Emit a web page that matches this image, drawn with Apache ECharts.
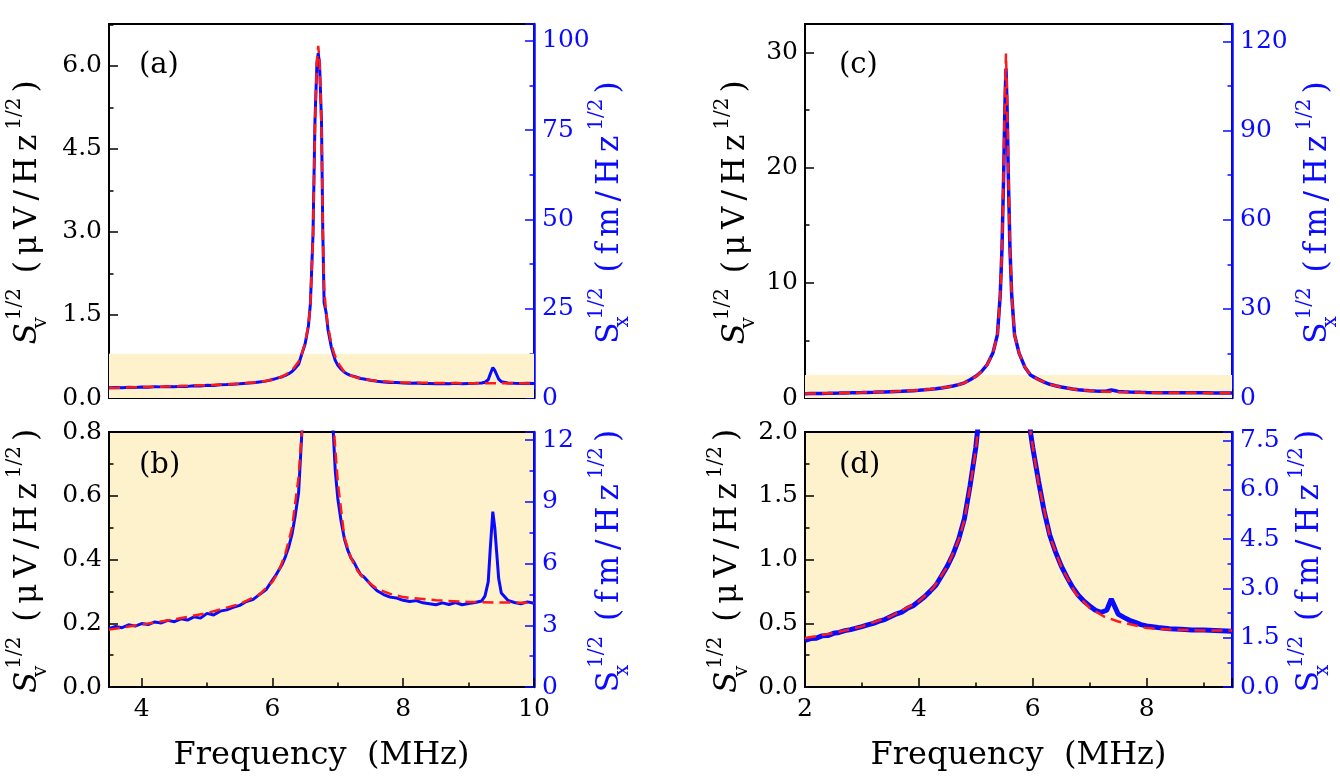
<!DOCTYPE html>
<html>
<head>
<meta charset="utf-8">
<script src="https://cdn.jsdelivr.net/npm/echarts@6/dist/echarts.min.js"></script>
<style>html,body{margin:0;padding:0;background:#fff}#chart{width:1340px;height:783px}</style>
</head>
<body>
<div id="chart"></div>
<script>
// ---------- data ----------
// Device 1 (panels a, b): measured spectrum [frequency MHz, S_v^1/2 in uV/Hz^1/2]
const device1Measured = [
  [3.5,0.183],[3.6,0.190],[3.7,0.186],[3.8,0.195],[3.9,0.191],[4.0,0.199],[4.1,0.196],[4.2,0.204],
  [4.3,0.201],[4.4,0.209],[4.5,0.205],[4.6,0.214],[4.7,0.210],[4.8,0.220],[4.9,0.216],[5.0,0.231],
  [5.1,0.226],[5.2,0.238],[5.3,0.242],[5.4,0.250],[5.5,0.256],[5.6,0.268],[5.7,0.274],[5.8,0.290],
  [5.9,0.305],[6.0,0.335],[6.05,0.350],[6.1,0.368],[6.15,0.385],[6.2,0.410],[6.25,0.440],[6.3,0.480],
  [6.35,0.540],[6.4,0.610],[6.45,0.800],[6.5,0.98],[6.55,1.30],[6.58,1.70],[6.62,2.95],[6.65,5.00],
  [6.68,6.05],[6.70,6.23],[6.72,6.05],[6.75,5.00],[6.77,3.00],[6.79,1.72],[6.82,1.55],[6.85,1.23],
  [6.90,0.92],[6.93,0.80],[6.96,0.68],[7.0,0.59],[7.05,0.52],[7.1,0.465],[7.15,0.43],[7.2,0.405],
  [7.25,0.39],[7.3,0.37],[7.35,0.352],[7.4,0.345],[7.5,0.322],[7.6,0.302],[7.7,0.290],[7.8,0.282],
  [7.9,0.279],[8.0,0.272],[8.1,0.268],[8.2,0.271],[8.3,0.264],[8.4,0.261],[8.5,0.258],[8.6,0.264],
  [8.7,0.259],[8.8,0.265],[8.9,0.258],[9.0,0.262],[9.1,0.265],[9.2,0.270],[9.25,0.285],[9.3,0.33],
  [9.33,0.43],[9.37,0.55],[9.40,0.50],[9.43,0.42],[9.46,0.34],[9.5,0.295],[9.6,0.272],[9.7,0.265],
  [9.8,0.261],[9.9,0.267],[10.0,0.263]
];
// Device 1 fitted curve
const device1Fit = [
  [3.5,0.180],[3.75,0.188],[4.0,0.196],[4.5,0.212],[5.0,0.232],[5.5,0.260],[5.8,0.290],[6.0,0.330],
  [6.1,0.365],[6.2,0.420],[6.3,0.500],[6.4,0.660],[6.45,0.800],[6.5,1.00],[6.55,1.32],[6.58,1.70],
  [6.62,2.90],[6.65,4.90],[6.68,6.10],[6.70,6.36],[6.72,6.10],[6.75,4.90],[6.77,3.00],[6.79,2.00],
  [6.82,1.55],[6.85,1.30],[6.90,0.97],[6.95,0.78],[7.0,0.64],[7.1,0.47],[7.2,0.405],[7.3,0.365],
  [7.4,0.340],[7.6,0.308],[7.8,0.292],[8.0,0.282],[8.5,0.272],[9.0,0.267],[9.5,0.265],[10.0,0.264]
];
// Device 2 (panels c, d): measured spectrum
const device2Measured = [
  [2.0,0.365],[2.1,0.380],[2.2,0.383],[2.3,0.401],[2.4,0.403],[2.5,0.421],[2.6,0.428],[2.7,0.442],
  [2.8,0.450],[2.9,0.462],[3.0,0.474],[3.1,0.487],[3.2,0.499],[3.3,0.517],[3.4,0.529],[3.5,0.551],
  [3.6,0.572],[3.7,0.588],[3.8,0.617],[3.9,0.638],[4.0,0.672],[4.1,0.708],[4.2,0.752],[4.3,0.798],
  [4.4,0.872],[4.5,0.948],[4.6,1.040],[4.7,1.160],[4.8,1.320],[4.9,1.580],[5.0,1.880],[5.1,2.30],
  [5.2,2.90],[5.3,3.90],[5.38,5.50],[5.43,9.00],[5.46,13.0],[5.49,19.5],[5.51,25.0],[5.53,28.6],
  [5.55,25.0],[5.57,19.5],[5.60,13.0],[5.63,9.00],[5.68,5.50],[5.76,3.90],[5.86,2.70],[5.96,2.00],
  [6.0,1.880],[6.1,1.620],[6.2,1.380],[6.3,1.190],[6.4,1.060],[6.5,0.950],[6.6,0.862],[6.7,0.782],
  [6.8,0.720],[6.9,0.672],[7.0,0.636],[7.1,0.602],[7.2,0.586],[7.3,0.602],[7.38,0.690],[7.45,0.622],
  [7.5,0.572],[7.6,0.546],[7.7,0.523],[7.8,0.507],[7.9,0.489],[8.0,0.479],[8.2,0.466],[8.4,0.457],
  [8.6,0.453],[8.8,0.447],[9.0,0.448],[9.2,0.444],[9.4,0.440],[9.5,0.437]
];
// Device 2 fitted curve
const device2Fit = [
  [2.0,0.384],[2.5,0.423],[3.0,0.475],[3.5,0.553],[4.0,0.671],[4.25,0.775],[4.5,0.945],[4.7,1.154],
  [4.8,1.31],[4.9,1.57],[5.0,1.86],[5.1,2.30],[5.2,2.90],[5.3,3.90],[5.38,5.50],[5.43,9.00],
  [5.46,13.0],[5.49,20.0],[5.51,26.0],[5.53,29.9],[5.55,26.0],[5.57,20.0],[5.60,13.0],[5.63,9.00],
  [5.68,5.50],[5.76,3.90],[5.86,2.70],[5.96,2.00],[6.0,1.885],[6.1,1.60],[6.2,1.39],[6.3,1.18],
  [6.5,0.945],[6.75,0.736],[7.0,0.62],[7.25,0.553],[7.5,0.514],[8.0,0.462],[8.5,0.449],[9.0,0.444],
  [9.5,0.444]
];
// axis ranges and ticks
const xRangeDevice1 = [3.5, 10];
const xRangeDevice2 = [2, 9.5];
const leftMax = [6.757, 0.8, 32.46, 2.0];       // panels a, b, c, d
const leftStep = [1.5, 0.2, 10, 0.5];
const leftDecimals = [1, 1, 0, 1];
const rightMax = [104.7, 12.4, 125.9, 7.76];
const rightStep = [25, 3, 30, 1.5];
const rightDecimals = [0, 0, 0, 1];
const zoomBandTop = [0.8, 2.0];                  // shaded region in (a) and (c) = range of (b) and (d)
const panelLabels = ['(a)', '(b)', '(c)', '(d)'];
const xTitle = 'Frequency  (MHz)';
const leftUnit = ['(', 'μ', 'V', '/', 'H', 'z'];
const rightUnit = ['(', 'f', 'm', '/', 'H', 'z'];

// ---------- styling ----------
const F = "'DejaVu Serif', serif";
const BLUE = '#0a0aff';
const RED = '#ff1a1a';
const SHADE = '#fef2cd';

const grids = [
  {left: 109, top: 24, width: 425, height: 374},
  {left: 109, top: 432, width: 425, height: 255},
  {left: 805, top: 24, width: 427, height: 374},
  {left: 805, top: 432, width: 427, height: 255}
].map((g, i) => Object.assign(g, {
  show: true, borderColor: '#000', borderWidth: 2,
  backgroundColor: (i === 1 || i === 3) ? SHADE : 'transparent',
  outerBoundsMode: 'none', containLabel: false
}));

function rich(color, italicS) {
  return {
    s: {fontFamily: F, fontSize: 31, fontStyle: italicS ? 'italic' : 'normal', color, lineHeight: 52},
    c: {fontFamily: F, fontSize: 31, color, lineHeight: 52, padding: [0, 3, 0, 3]},
    n: {fontFamily: F, fontSize: 31, color, lineHeight: 52},
    sub: {fontFamily: F, fontSize: 20, color, verticalAlign: 'bottom', width: 1, lineHeight: 23, padding: [0, 0, 3, 0]},
    sup: {fontFamily: F, fontSize: 20, color, verticalAlign: 'top', lineHeight: 23, padding: [3, 2, 0, 2]}
  };
}
function axisName(sub, unit) {
  return '{s|S}{sub|' + sub + '}{sup|1/2}{n| }' +
    unit.map(ch => '{c|' + ch + '}').join('') + '{sup|1/2}{c|)}';
}
const leftName = axisName('v', leftUnit);
const rightName = axisName('x', rightUnit);

const tickStyle = c => ({show: true, inside: true, length: 9, lineStyle: {color: c, width: 1.5}});
const minorStyle = c => ({show: true, splitNumber: 2, length: 4.5, lineStyle: {color: c, width: 1.5}});

const xAxes = [0, 1, 2, 3].map(i => {
  const r = i < 2 ? xRangeDevice1 : xRangeDevice2;
  const bottom = (i === 1 || i === 3);
  return {
    type: 'value', gridIndex: i, min: r[0], max: r[1], minInterval: 2, maxInterval: 2,
    splitLine: {show: false},
    axisLine: {show: true, lineStyle: {color: '#000', width: 2}},
    axisTick: tickStyle('#000'),
    minorTick: minorStyle('#000'),
    axisLabel: {show: bottom, showMinLabel: r[0] % 2 === 0, showMaxLabel: r[1] % 2 === 0,
      fontFamily: F, fontSize: 25, color: '#000', margin: 10},
    name: bottom ? xTitle : '', nameLocation: 'middle', nameGap: 53,
    nameTextStyle: {fontFamily: F, fontSize: 32, color: '#000'}
  };
});

const leftGap = [55, 55, 43, 43];
const rightGap = [50, 50, 44, 44];
const rightMoveOverlap = [false, false, true, true];
const yAxes = [];
[0, 1, 2, 3].forEach(i => {
  const leftIsNice = Math.abs(leftMax[i] / leftStep[i] - Math.round(leftMax[i] / leftStep[i])) < 1e-9;
  yAxes.push({
    type: 'value', gridIndex: i, position: 'left', min: 0, max: leftMax[i], interval: leftStep[i],
    splitLine: {show: false},
    axisLine: {show: true, lineStyle: {color: '#000', width: 2}},
    axisTick: tickStyle('#000'),
    minorTick: minorStyle('#000'),
    axisLabel: {fontFamily: F, fontSize: 25, color: '#000', margin: 7, showMaxLabel: leftIsNice,
      formatter: v => v.toFixed(leftDecimals[i])},
    name: leftName, nameLocation: 'middle', nameRotate: 90, nameGap: leftGap[i],
    nameTextStyle: {rich: rich('#000', true)}
  });
  yAxes.push({
    type: 'value', gridIndex: i, position: 'right', min: 0, max: rightMax[i], interval: rightStep[i],
    splitLine: {show: false},
    axisLine: {show: true, lineStyle: {color: BLUE, width: 2.5}},
    axisTick: tickStyle(BLUE),
    minorTick: minorStyle(BLUE),
    axisLabel: {fontFamily: F, fontSize: 25, color: BLUE, margin: 8, showMaxLabel: false,
      formatter: v => v.toFixed(rightDecimals[i])},
    name: rightName, nameLocation: 'middle', nameRotate: 90, nameGap: rightGap[i],
    nameMoveOverlap: rightMoveOverlap[i],
    nameTextStyle: {rich: rich(BLUE, false)}
  });
});

const series = [];
[0, 1, 2, 3].forEach(i => {
  const meas = i < 2 ? device1Measured : device2Measured;
  const fit = i < 2 ? device1Fit : device2Fit;
  const thick = i === 3 ? 5 : (i === 2 ? 3.5 : 3);
  series.push({
    type: 'line', xAxisIndex: i, yAxisIndex: 2 * i, data: meas, showSymbol: false, silent: true,
    lineStyle: {color: BLUE, width: thick}, z: 3,
    markArea: (i === 0 || i === 2) ? {
      silent: true, itemStyle: {color: SHADE},
      data: [[{yAxis: 0}, {yAxis: zoomBandTop[i / 2]}]]
    } : undefined
  });
  series.push({
    type: 'line', xAxisIndex: i, yAxisIndex: 2 * i, data: fit, showSymbol: false, silent: true,
    lineStyle: {color: RED, width: 2.5, type: [11, 6]}, z: 4
  });
});

const titles = panelLabels.map((t, i) => ({
  text: t, left: [134, 134, 834, 834][i], top: [46, 446, 46, 446][i],
  textStyle: {fontFamily: F, fontSize: 29, fontWeight: 'normal', color: '#000'}
}));

const chart = echarts.init(document.getElementById('chart'), null, {renderer: 'canvas'});
chart.setOption({
  animation: false,
  backgroundColor: '#fff',
  textStyle: {fontFamily: F},
  title: titles,
  grid: grids,
  xAxis: xAxes,
  yAxis: yAxes,
  series: series
});
</script>
</body>
</html>
